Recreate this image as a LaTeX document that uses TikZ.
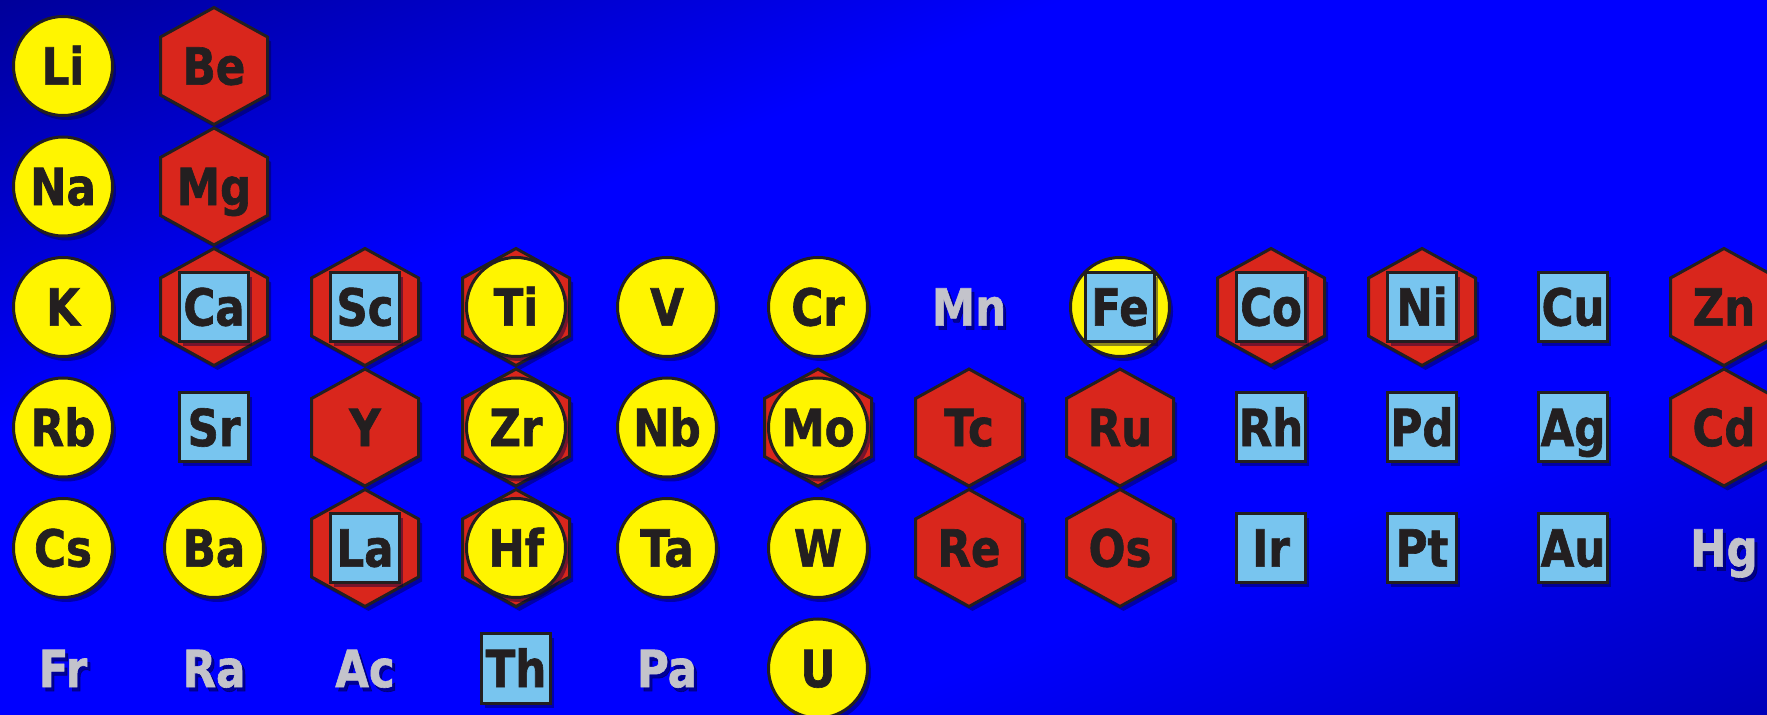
\documentclass[tikz,border=0pt]{standalone}
\usepackage{fontspec}
\newfontfamily\elfont{DejaVu Sans}[FakeStretch=0.85, FakeBold=1.2]
\definecolor{edge}{HTML}{231F20}
\definecolor{yel}{HTML}{FFF500}
\definecolor{redh}{HTML}{D9261C}
\definecolor{lblue}{HTML}{78C5EF}
\definecolor{greyt}{HTML}{C3C3CB}
\definecolor{bgA}{HTML}{00009A}
\definecolor{bgB}{HTML}{0000FF}
\definecolor{bgC}{HTML}{0000B8}
\definecolor{shd}{HTML}{000040}
\pgfdeclarehorizontalshading{bgshade}{1000pt}{color(0pt)=(bgA); color(200pt)=(bgB); color(490pt)=(bgB); color(663pt)=(bgC)}
\tikzset{
  shadowfill/.style={fill=shd, fill opacity=0.45},
  outline/.style={draw=edge, line width=1.5pt, line join=miter},
  hexagon/.pic={
    \fill[shadowfill, shift={(3.5,4.5)}] (0,-58.5) -- (53.5,-29) -- (53.5,29) -- (0,58.5) -- (-53.5,29) -- (-53.5,-29) -- cycle;
    \filldraw[outline, fill=redh] (0,-58.5) -- (53.5,-29) -- (53.5,29) -- (0,58.5) -- (-53.5,29) -- (-53.5,-29) -- cycle;
  },
  disc/.pic={
    \fill[shadowfill] (3.5,4.5) circle[radius=24.75pt];
    \filldraw[outline, fill=yel] (0,0) circle[radius=24.75pt];
  },
  square/.pic={
    \fill[shadowfill] (-31,-30) rectangle (38,39);
    \filldraw[outline, fill=lblue] (-34.5,-34.5) rectangle (34.5,34.5);
  },
  lbl/.style={anchor=base, inner sep=0pt, text=edge, font=\elfont\bfseries\fontsize{25.6}{30}\selectfont},
  glbl/.style={lbl, text=greyt},
  glblshadow/.style={lbl, text=shd, text opacity=0.55}
}
\begin{document}
\begin{tikzpicture}[x=0.5pt, y=-0.5pt]
\useasboundingbox (0,0) rectangle (1767,715);
\begin{scope}
  \clip (0,0) rectangle (1767,715);
  \node[rotate=-67.97, inner sep=0pt] (bg) at (883.5,357.5) {\pgfuseshading{bgshade}};

  % ---- row 1
  \pic at (63,66) {disc};
  \node[lbl] (Li) at (63,84.6) {Li};
  \pic at (214,66) {hexagon};
  \node[lbl] (Be) at (214,84.6) {Be};

  % ---- row 2
  \pic at (63,186.5) {disc};
  \node[lbl] (Na) at (63,205.1) {Na};
  \pic at (214,186.5) {hexagon};
  \node[lbl] (Mg) at (214,205.1) {Mg};

  % ---- row 3
  \pic at (63,307) {disc};
  \node[lbl] (K) at (63,325.6) {K};
  \pic at (214,307) {hexagon}; \pic at (214,307) {square};
  \node[lbl] (Ca) at (214,325.6) {Ca};
  \pic at (365,307) {hexagon}; \pic at (365,307) {square};
  \node[lbl] (Sc) at (365,325.6) {Sc};
  \pic at (516,307) {hexagon}; \pic at (516,307) {disc};
  \node[lbl] (Ti) at (516,325.6) {Ti};
  \pic at (667,307) {disc};
  \node[lbl] (V) at (667,325.6) {V};
  \pic at (818,307) {disc};
  \node[lbl] (Cr) at (818,325.6) {Cr};
  \node[glblshadow] at (972,329.6) {Mn};
  \node[glbl] (Mn) at (969,325.6) {Mn};
  \pic at (1120,307) {disc}; \pic at (1120,307) {square};
  \node[lbl] (Fe) at (1120,325.6) {Fe};
  \pic at (1271,307) {hexagon}; \pic at (1271,307) {square};
  \node[lbl] (Co) at (1271,325.6) {Co};
  \pic at (1422,307) {hexagon}; \pic at (1422,307) {square};
  \node[lbl] (Ni) at (1422,325.6) {Ni};
  \pic at (1573,307) {square};
  \node[lbl] (Cu) at (1573,325.6) {Cu};
  \pic at (1724,307) {hexagon};
  \node[lbl] (Zn) at (1724,325.6) {Zn};

  % ---- row 4
  \pic at (63,427.5) {disc};
  \node[lbl] (Rb) at (63,446.1) {Rb};
  \pic at (214,427.5) {square};
  \node[lbl] (Sr) at (214,446.1) {Sr};
  \pic at (365,427.5) {hexagon};
  \node[lbl] (Y) at (365,446.1) {Y};
  \pic at (516,427.5) {hexagon}; \pic at (516,427.5) {disc};
  \node[lbl] (Zr) at (516,446.1) {Zr};
  \pic at (667,427.5) {disc};
  \node[lbl] (Nb) at (667,446.1) {Nb};
  \pic at (818,427.5) {hexagon}; \pic at (818,427.5) {disc};
  \node[lbl] (Mo) at (818,446.1) {Mo};
  \pic at (969,427.5) {hexagon};
  \node[lbl] (Tc) at (969,446.1) {Tc};
  \pic at (1120,427.5) {hexagon};
  \node[lbl] (Ru) at (1120,446.1) {Ru};
  \pic at (1271,427.5) {square};
  \node[lbl] (Rh) at (1271,446.1) {Rh};
  \pic at (1422,427.5) {square};
  \node[lbl] (Pd) at (1422,446.1) {Pd};
  \pic at (1573,427.5) {square};
  \node[lbl] (Ag) at (1573,446.1) {Ag};
  \pic at (1724,427.5) {hexagon};
  \node[lbl] (Cd) at (1724,446.1) {Cd};

  % ---- row 5
  \pic at (63,548) {disc};
  \node[lbl] (Cs) at (63,566.6) {Cs};
  \pic at (214,548) {disc};
  \node[lbl] (Ba) at (214,566.6) {Ba};
  \pic at (365,548) {hexagon}; \pic at (365,548) {square};
  \node[lbl] (La) at (365,566.6) {La};
  \pic at (516,548) {hexagon}; \pic at (516,548) {disc};
  \node[lbl] (Hf) at (516,566.6) {Hf};
  \pic at (667,548) {disc};
  \node[lbl] (Ta) at (667,566.6) {Ta};
  \pic at (818,548) {disc};
  \node[lbl] (W) at (818,566.6) {W};
  \pic at (969,548) {hexagon};
  \node[lbl] (Re) at (969,566.6) {Re};
  \pic at (1120,548) {hexagon};
  \node[lbl] (Os) at (1120,566.6) {Os};
  \pic at (1271,548) {square};
  \node[lbl] (Ir) at (1271,566.6) {Ir};
  \pic at (1422,548) {square};
  \node[lbl] (Pt) at (1422,566.6) {Pt};
  \pic at (1573,548) {square};
  \node[lbl] (Au) at (1573,566.6) {Au};
  \node[glblshadow] at (1727,570.6) {Hg};
  \node[glbl] (Hg) at (1724,566.6) {Hg};

  % ---- row 6
  \node[glblshadow] at (66,691.1) {Fr};
  \node[glbl] (Fr) at (63,687.1) {Fr};
  \node[glblshadow] at (217,691.1) {Ra};
  \node[glbl] (Ra) at (214,687.1) {Ra};
  \node[glblshadow] at (368,691.1) {Ac};
  \node[glbl] (Ac) at (365,687.1) {Ac};
  \pic at (516,668.5) {square};
  \node[lbl] (Th) at (516,687.1) {Th};
  \node[glblshadow] at (670,691.1) {Pa};
  \node[glbl] (Pa) at (667,687.1) {Pa};
  \pic at (818,668.5) {disc};
  \node[lbl] (U) at (818,687.1) {U};
\end{scope}
\end{tikzpicture}
\end{document}
